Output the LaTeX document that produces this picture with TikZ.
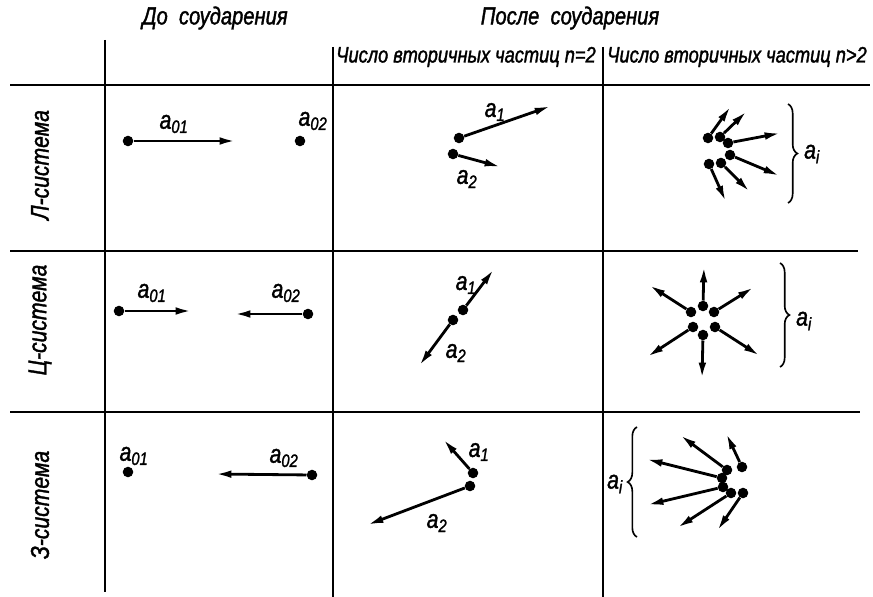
\documentclass[tikz,border=0pt]{standalone}
\usepackage{fontspec}
\newfontfamily\draft{Liberation Sans}[FakeBold=1.5,FakeStretch=0.82]
\usetikzlibrary{arrows.meta,decorations.pathreplacing}

\begin{document}
\begin{tikzpicture}[x=0.03cm,y=-0.03cm,
grid/.style={line width=1.4pt},
vec/.style={-{Latex[length=14pt,width=6.5pt]},line width=2.4pt},
pt/.style={circle,fill,inner sep=0pt,minimum size=9pt},
lbl/.style={inner sep=1pt,font=\draft\itshape\fontsize{22}{22}\selectfont},
head/.style={font=\draft\itshape\fontsize{21}{23}\selectfont},
sub/.style={inner sep=1pt,font=\draft\itshape\fontsize{19}{21}\selectfont},
side/.style={rotate=90,font=\draft\itshape\fontsize{22}{24}\selectfont},
brc/.style={decorate,decoration={brace,amplitude=8pt},line width=1.4pt}]
\useasboundingbox (0,0) rectangle (873,597);
% headings
\node[head] (before) at (215,18) {До\ \ соударения};
\node[head] (after) at (570,18) {После\ \ соударения};
\node[sub] (two) at (466,57) {Число вторичных частиц n=2};
\node[sub] (many) at (737,57) {Число вторичных частиц n>2};
\node[side] (rowL) at (40,165) {Л-система};
\node[side] (rowC) at (40,320) {Ц-система};
\node[side] (rowZ) at (40,505) {З-система};
% table rules
\draw[grid] (105,40) -- (105,592);
\draw[grid] (333,47) -- (333,597);
\draw[grid] (603,47) -- (603,597);
\draw[grid] (10,85) -- (870,85);
\draw[grid] (10,251) -- (858,251);
\draw[grid] (10,412) -- (860,412);

% L-system, before
\node[pt] (L01) at (128,141) {};
\coordinate (L01e) at (236,141);
\draw[vec] (L01) -- (L01e);
\node[lbl] (La01) at (174,124) {a\textsubscript{01}};
\node[pt] (L02) at (300,141) {};
\node[lbl] (La02) at (313,121) {a\textsubscript{02}};
% L-system, n=2
\node[pt] (L1) at (459,138) {};
\coordinate (L1e) at (551,106);
\draw[vec] (L1) -- (L1e);
\node[lbl] (La1) at (495,112) {a\textsubscript{1}};
\node[pt] (L2) at (453,154) {};
\coordinate (L2e) at (501,167);
\draw[vec] (L2) -- (L2e);
\node[lbl] (La2) at (467,179) {a\textsubscript{2}};
% L-system, n>2
\node[pt] (Ls1) at (708,138) {}; \coordinate (Lt1) at (731,106); \draw[vec] (Ls1) -- (Lt1);
\node[pt] (Ls2) at (720,137) {}; \coordinate (Lt2) at (747,111); \draw[vec] (Ls2) -- (Lt2);
\node[pt] (Ls3) at (728,143) {}; \coordinate (Lt3) at (781,133); \draw[vec] (Ls3) -- (Lt3);
\node[pt] (Ls4) at (730,155) {}; \coordinate (Lt4) at (780,176); \draw[vec] (Ls4) -- (Lt4);
\node[pt] (Ls5) at (709,164) {}; \coordinate (Lt5) at (726,202); \draw[vec] (Ls5) -- (Lt5);
\node[pt] (Ls6) at (721,163) {}; \coordinate (Lt6) at (750,192); \draw[vec] (Ls6) -- (Lt6);
\coordinate (Lb1) at (788,104);
\coordinate (Lb2) at (788,203);
\draw[brc] (Lb1) -- (Lb2);
\node[lbl] (Lai) at (812,154) {a\textsubscript{i}};

% C-system, before
\node[pt] (C01) at (119,311) {};
\coordinate (C01e) at (192,311);
\draw[vec] (C01) -- (C01e);
\node[lbl] (Ca01) at (152,293) {a\textsubscript{01}};
\node[pt] (C02) at (308,314) {};
\coordinate (C02e) at (234,314);
\draw[vec] (C02) -- (C02e);
\node[lbl] (Ca02) at (286,293) {a\textsubscript{02}};
% C-system, n=2
\node[pt] (C1) at (463,310) {};
\coordinate (C1e) at (494,269);
\draw[vec] (C1) -- (C1e);
\node[lbl] (Ca1) at (466,285) {a\textsubscript{1}};
\node[pt] (C2) at (453,320) {};
\coordinate (C2e) at (419,366);
\draw[vec] (C2) -- (C2e);
\node[lbl] (Ca2) at (456,353) {a\textsubscript{2}};
% C-system, n>2
\node[pt] (Cs1) at (703,306) {}; \coordinate (Ct1) at (704,266); \draw[vec] (Cs1) -- (Ct1);
\node[pt] (Cs2) at (691,312) {}; \coordinate (Ct2) at (649,285); \draw[vec] (Cs2) -- (Ct2);
\node[pt] (Cs3) at (714,312) {}; \coordinate (Ct3) at (754,287); \draw[vec] (Cs3) -- (Ct3);
\node[pt] (Cs4) at (693,327) {}; \coordinate (Ct4) at (647,357); \draw[vec] (Cs4) -- (Ct4);
\node[pt] (Cs5) at (715,327) {}; \coordinate (Ct5) at (760,356); \draw[vec] (Cs5) -- (Ct5);
\node[pt] (Cs6) at (703,335) {}; \coordinate (Ct6) at (702,379); \draw[vec] (Cs6) -- (Ct6);
\coordinate (Cb1) at (780,263);
\coordinate (Cb2) at (780,367);
\draw[brc] (Cb1) -- (Cb2);
\node[lbl] (Cai) at (804,321) {a\textsubscript{i}};

% Z-system, before
\node[pt] (Z01) at (128,472) {};
\node[lbl] (Za01) at (134,456) {a\textsubscript{01}};
\node[pt] (Z02) at (312,475) {};
\coordinate (Z02e) at (215,474);
\draw[vec] (Z02) -- (Z02e);
\node[lbl] (Za02) at (284,458) {a\textsubscript{02}};
% Z-system, n=2
\node[pt] (Z1) at (473,473) {};
\coordinate (Z1e) at (443,439);
\draw[vec] (Z1) -- (Z1e);
\node[lbl] (Za1) at (479,452) {a\textsubscript{1}};
\node[pt] (Z2) at (470,486) {};
\coordinate (Z2e) at (367,525);
\draw[vec] (Z2) -- (Z2e);
\node[lbl] (Za2) at (437,523) {a\textsubscript{2}};
% Z-system, n>2
\node[pt] (Zs1) at (742,467) {}; \coordinate (Zt1) at (726,433); \draw[vec] (Zs1) -- (Zt1);
\node[pt] (Zs2) at (727,470) {}; \coordinate (Zt2) at (680,435); \draw[vec] (Zs2) -- (Zt2);
\node[pt] (Zs3) at (722,478) {}; \coordinate (Zt3) at (646,459); \draw[vec] (Zs3) -- (Zt3);
\node[pt] (Zs4) at (723,487) {}; \coordinate (Zt4) at (647,505); \draw[vec] (Zs4) -- (Zt4);
\node[pt] (Zs5) at (731,493) {}; \coordinate (Zt5) at (677,528); \draw[vec] (Zs5) -- (Zt5);
\node[pt] (Zs6) at (743,493) {}; \coordinate (Zt6) at (717,531); \draw[vec] (Zs6) -- (Zt6);
\coordinate (Zb1) at (637,537);
\coordinate (Zb2) at (637,427);
\draw[brc] (Zb1) -- (Zb2);
\node[lbl] (Zai) at (615,484) {a\textsubscript{i}};
\end{tikzpicture}
\end{document}
